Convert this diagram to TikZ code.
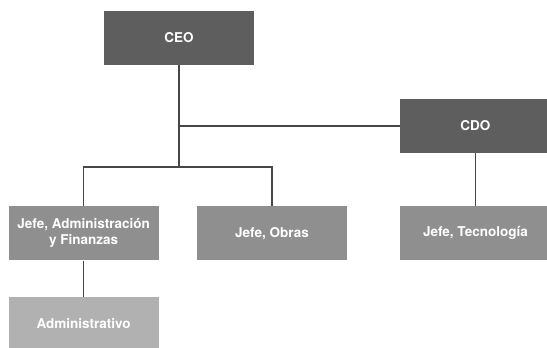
\documentclass[tikz,border=0pt]{standalone}
\usepackage{fontspec}
\setsansfont{TeX Gyre Heros}
\usetikzlibrary{positioning}
\definecolor{jefatura}{HTML}{5E5E5E}
\definecolor{mando}{HTML}{8F8F8F}
\definecolor{staff}{HTML}{B1B1B1}
\definecolor{linea}{HTML}{474747}

\begin{document}
\begin{tikzpicture}[x=1pt, y=-1pt,
    box/.style={rectangle, minimum width=150pt, minimum height=54pt, inner sep=0pt,
        text=white, align=center, font=\sffamily\bfseries\fontsize{13.5}{16}\selectfont},
    top/.style={box, fill=jefatura},
    mid/.style={box, fill=mando},
    low/.style={box, fill=staff},
    conn/.style={draw=linea, line width=1.3pt}]
    \useasboundingbox (0,0) rectangle (547,348);

    \node[top] (ceo) at (179,37.5) {CEO};
    \node[top, below right=34pt and 146pt of ceo] (cdo) {CDO};
    \node[mid, below=53pt of cdo] (tecno) {Jefe, Tecnología};
    \node[mid, left=53pt of tecno] (obras) {Jefe, Obras};
    \node[mid, left=38pt of obras] (admin) {Jefe, Administración\\y Finanzas};
    \node[low, below=36pt of admin] (adminv) {Administrativo};

    \coordinate (jn) at (ceo |- cdo);
    \coordinate (bus) at (179,167);

    \draw[conn]
        (ceo) -- (bus)
        (jn) -- (cdo)
        (admin) |- (bus) -| (obras)
        (cdo) -- (tecno)
        (admin) -- (adminv)
        ;
\end{tikzpicture}
\end{document}
